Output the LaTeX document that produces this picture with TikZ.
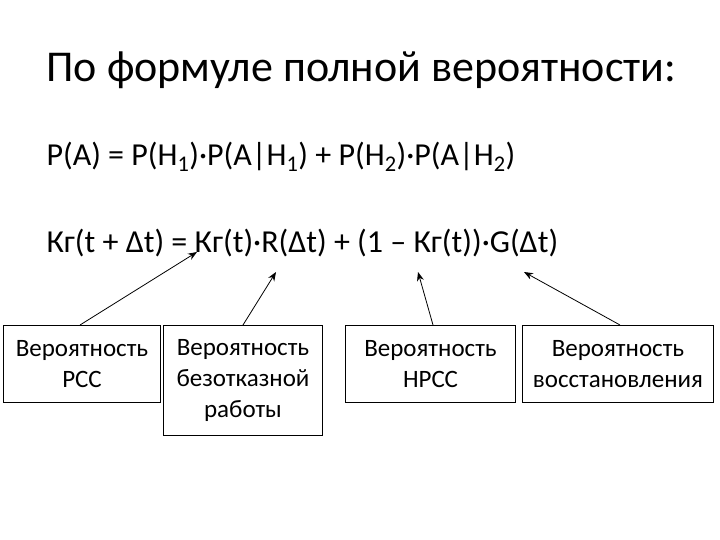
\documentclass[tikz,border=0pt]{standalone}
\usepackage{fontspec}
\setmainfont{Carlito}
\usetikzlibrary{arrows.meta}
\begin{document}
\begin{tikzpicture}[x=1pt,y=1pt,
  box/.style={draw,line width=1pt,inner sep=0pt,align=center,font=\fontsize{25}{31}\selectfont,anchor=north west},
  arr/.style={-{Stealth[length=9pt,width=7pt]},line width=0.8pt}]
\useasboundingbox (0,0) rectangle (720,-540);
\node[anchor=west,font=\fontsize{44}{50}\selectfont] (title) at (43,-70) {По формуле полной вероятности:};
\node[anchor=west,font=\fontsize{32}{38}\selectfont] (f1) at (43,-157) {P(A) = P(H\textsubscript{1})·P(A|H\textsubscript{1}) + P(H\textsubscript{2})·P(A|H\textsubscript{2})};
\node[anchor=west,font=\fontsize{32}{38}\selectfont] (f2) at (43,-243) {Кг(t + Δt) = Кг(t)·R(Δt) + (1 – Кг(t))·G(Δt)};
\node[box,minimum width=157pt,minimum height=77pt] (b1) at (3,-325) {Вероятность\\РСС};
\node[box,minimum width=159pt,minimum height=110pt] (b2) at (163,-325) {Вероятность\\безотказной\\работы};
\node[box,minimum width=170pt,minimum height=77pt] (b3) at (345,-325) {Вероятность\\НРСС};
\node[box,minimum width=191pt,minimum height=77pt] (b4) at (522,-325) {Вероятность\\восстановления};
\coordinate (t1) at (197,-252);
\coordinate (t2) at (276,-272);
\coordinate (t3) at (418,-272);
\coordinate (t4) at (524,-272);
\draw[arr] (b1.north west) ++(77,0) -- (t1);
\draw[arr] (b2.north west) ++(80,0) -- (t2);
\draw[arr] (b3.north west) ++(88,0) -- (t3);
\draw[arr] (b4.north west) ++(98,0) -- (t4);
\end{tikzpicture}
\end{document}
